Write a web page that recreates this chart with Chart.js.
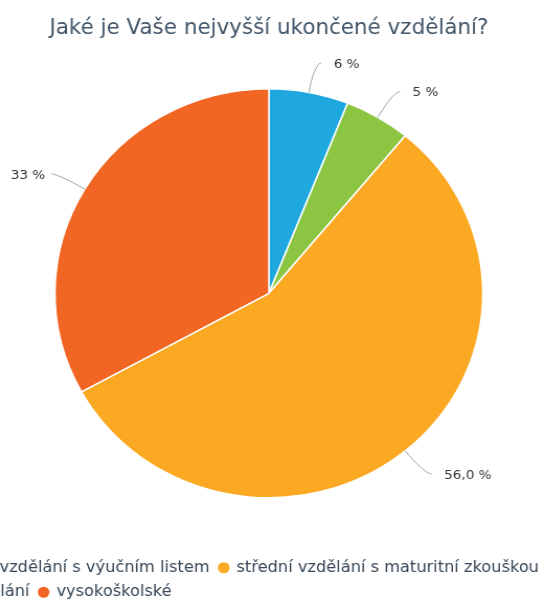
<!DOCTYPE html>
<html lang="cs">
<head>
<meta charset="utf-8">
<title>Vzdělání</title>
<script src="https://cdn.jsdelivr.net/npm/chart.js@4.4.1/dist/chart.umd.min.js"></script>
<style>
  html, body { margin: 0; padding: 0; background: #fff; overflow: hidden; width: 546px; height: 604px; }
  #wrap {
    position: absolute; left: -182.9px; top: 0;
    width: 864px; height: 610px;
    transform: scaleX(1.046); transform-origin: 0 0;
  }
</style>
</head>
<body>
<div id="wrap"><canvas id="eduChart" width="864" height="610"></canvas></div>
<script>
// kategorie a podíly (%)
const categories = [
    'základní',
    'střední vzdělání s výučním listem',
    'střední vzdělání s maturitní zkouškou',
    'vyšší odborné vzdělání',
    'vysokoškolské'
];
const shares = [6, 5, 56, 0, 33];
const shareDecimals = [0, 0, 1, 0, 0];
const sliceColors = ['#1fa8e0', '#8bc541', '#fba823', '#8f6fb8', '#f26624'];

const fontFamily = '"DejaVu Sans", Verdana, sans-serif';

function formatShare(i) {
    return shares[i].toFixed(shareDecimals[i]).replace('.', ',') + ' %';
}

// popisky výsečí s měkkou spojnicí
const sliceLabels = {
    id: 'sliceLabels',
    afterDatasetsDraw(chart) {
        const ctx = chart.ctx;
        const meta = chart.getDatasetMeta(0);
        const distance = 30;
        ctx.save();
        ctx.font = '13px ' + fontFamily;
        ctx.textBaseline = 'middle';
        meta.data.forEach((arc, i) => {
            if (!shares[i]) return;
            const p = arc.getProps(['x', 'y', 'startAngle', 'endAngle', 'outerRadius'], true);
            const mid = (p.startAngle + p.endAngle) / 2;
            const cos = Math.cos(mid), sin = Math.sin(mid);
            const right = cos >= 0;
            const side = right ? 1 : -1;
            const r = p.outerRadius;
            const touch = { x: p.x + cos * r, y: p.y + sin * r };
            const brk = { x: p.x + cos * (r + 6), y: p.y + sin * (r + 6) };
            const nat = { x: p.x + cos * (r + distance), y: p.y + sin * (r + distance) };
            const end = { x: nat.x + side * 6, y: nat.y };

            ctx.beginPath();
            ctx.moveTo(end.x, end.y);
            ctx.bezierCurveTo(end.x - side * 5, end.y, 2 * brk.x - touch.x, 2 * brk.y - touch.y, brk.x, brk.y);
            ctx.lineTo(touch.x, touch.y);
            ctx.strokeStyle = '#a3a3a3';
            ctx.lineWidth = 1;
            ctx.stroke();

            ctx.fillStyle = '#333333';
            ctx.textAlign = right ? 'left' : 'right';
            ctx.fillText(formatShare(i), nat.x + (right ? 18 : -12), nat.y + 1.5);
        });
        ctx.restore();
    }
};

const ctx = document.getElementById('eduChart').getContext('2d');
new Chart(ctx, {
    type: 'pie',
    data: {
        labels: categories,
        datasets: [{
            data: shares,
            backgroundColor: sliceColors,
            borderColor: '#ffffff',
            borderWidth: 1.5
        }]
    },
    options: {
        responsive: false,
        animation: false,
        events: [],
        radius: 204.5,
        layout: { padding: 0 },
        plugins: {
            title: {
                display: true,
                text: 'Jaké je Vaše nejvyšší ukončené vzdělání?',
                color: '#425669',
                font: { family: fontFamily, size: 20.5, weight: 'normal' },
                padding: { top: 16, bottom: -5 }
            },
            legend: {
                position: 'bottom',
                align: 'start',
                labels: {
                    usePointStyle: true,
                    pointStyle: 'circle',
                    boxWidth: 9,
                    boxHeight: 9,
                    padding: 9,
                    color: '#364656',
                    font: { family: fontFamily, size: 15.5 }
                }
            },
            tooltip: { enabled: false }
        }
    },
    plugins: [sliceLabels]
});
</script>
</body>
</html>
